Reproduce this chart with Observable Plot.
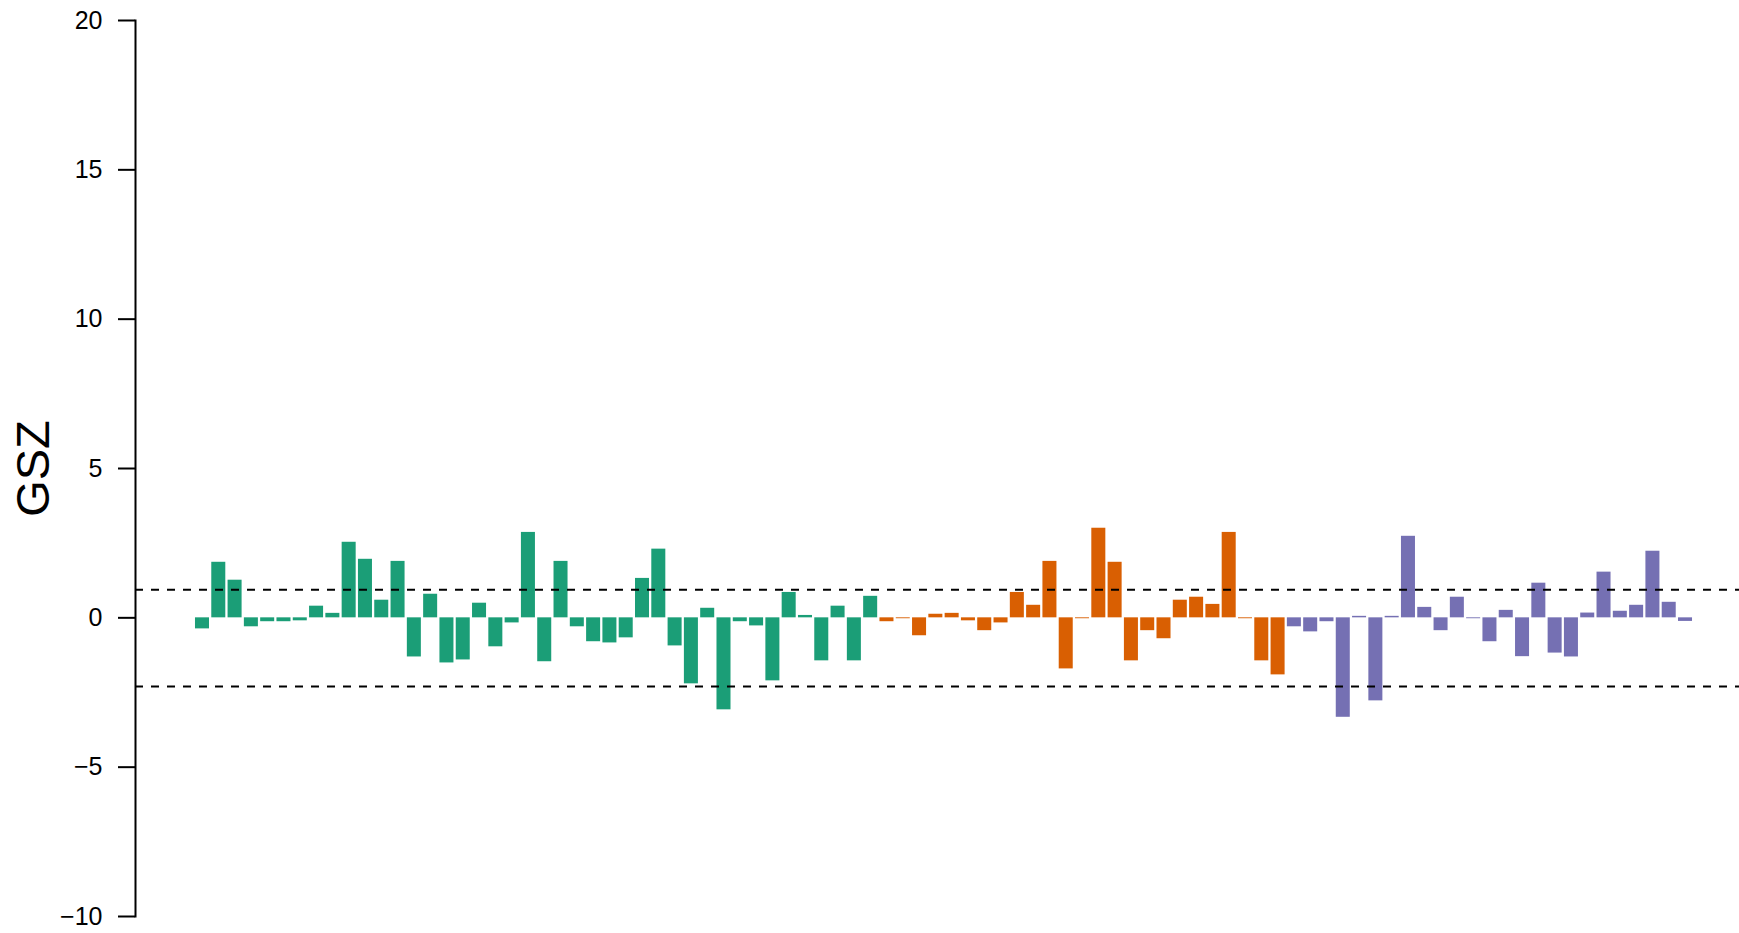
<!DOCTYPE html>
<html>
<head>
<meta charset="utf-8">
<script src="https://cdn.jsdelivr.net/npm/d3@7"></script>
<script src="https://cdn.jsdelivr.net/npm/@observablehq/plot@0.6"></script>
<style>
  html, body { margin: 0; padding: 0; background: #fff; overflow: hidden; }
  #chart svg { display: block; }
</style>
</head>
<body>
<div id="chart"></div>
<script>
// Group A (green), group B (orange), group C (purple) GSZ scores, in bar order
const groupAValues = [-0.37, 1.86, 1.26, -0.30, -0.13, -0.13, -0.10, 0.39, 0.15, 2.53,
  1.96, 0.59, 1.89, -1.31, 0.79, -1.51, -1.41, 0.49, -0.97, -0.17,
  2.86, -1.47, 1.89, -0.30, -0.80, -0.84, -0.67, 1.32, 2.30, -0.94,
  -2.21, 0.32, -3.08, -0.13, -0.27, -2.11, 0.85, 0.08, -1.44, 0.39,
  -1.44, 0.72];
const groupBValues = [-0.13, -0.03, -0.60, 0.12, 0.15, -0.10, -0.43, -0.17, 0.85, 0.42,
  1.89, -1.71, -0.03, 3.00, 1.86, -1.44, -0.43, -0.70, 0.59, 0.69,
  0.45, 2.86, -0.03, -1.44, -1.91];
const groupCValues = [-0.30, -0.47, -0.13, -3.33, 0.05, -2.78, 0.05, 2.73, 0.35, -0.43,
  0.69, -0.03, -0.80, 0.25, -1.30, 1.16, -1.18, -1.31, 0.16, 1.53,
  0.22, 0.42, 2.23, 0.52, -0.12];
const groupNames = ["A", "B", "C"];
const groupColors = ["#1B9E77", "#D95F02", "#7570B3"];
const thresholds = [0.94, -2.30];
const yTicks = [-10, -5, 0, 5, 10, 15, 20];
const yDomain = [-10, 20];

const data = [];
[groupAValues, groupBValues, groupCValues].forEach((vals, g) => {
  vals.forEach((v) => data.push({ id: data.length, group: groupNames[g], value: v }));
});

const font = "'Liberation Sans', Arial, Helvetica, sans-serif";

const chart = Plot.plot({
  width: 1739,
  height: 933,
  marginLeft: 135,
  marginRight: 0,
  marginTop: 20,
  marginBottom: 17,
  style: { fontFamily: font, background: "#fff", color: "#000" },
  x: { type: "band", domain: data.map(d => d.id), range: [192.7, 1694.3], padding: 0.14, round: false, axis: null },
  y: { domain: yDomain, ticks: yTicks, axis: null },
  color: { domain: groupNames, range: groupColors },
  marks: [
    Plot.barY(data, { x: "id", y: "value", fill: "group" }),
    Plot.ruleY(thresholds, { stroke: "#000", strokeWidth: 2, strokeDasharray: "8,8" }),
    Plot.axisY({ ticks: yTicks, tickSize: 17, tickPadding: 16, tickWidth: 2, strokeWidth: 2, fontSize: 25, label: null, anchor: "left" }),
    Plot.frame({ anchor: "left", stroke: "#000", strokeWidth: 2 }),
    Plot.text(["GSZ"], { frameAnchor: "left", dx: -102, rotate: -90, fontSize: 47, textAnchor: "middle", lineAnchor: "middle", fill: "#000" })
  ]
});

document.getElementById("chart").appendChild(chart);
</script>
</body>
</html>
